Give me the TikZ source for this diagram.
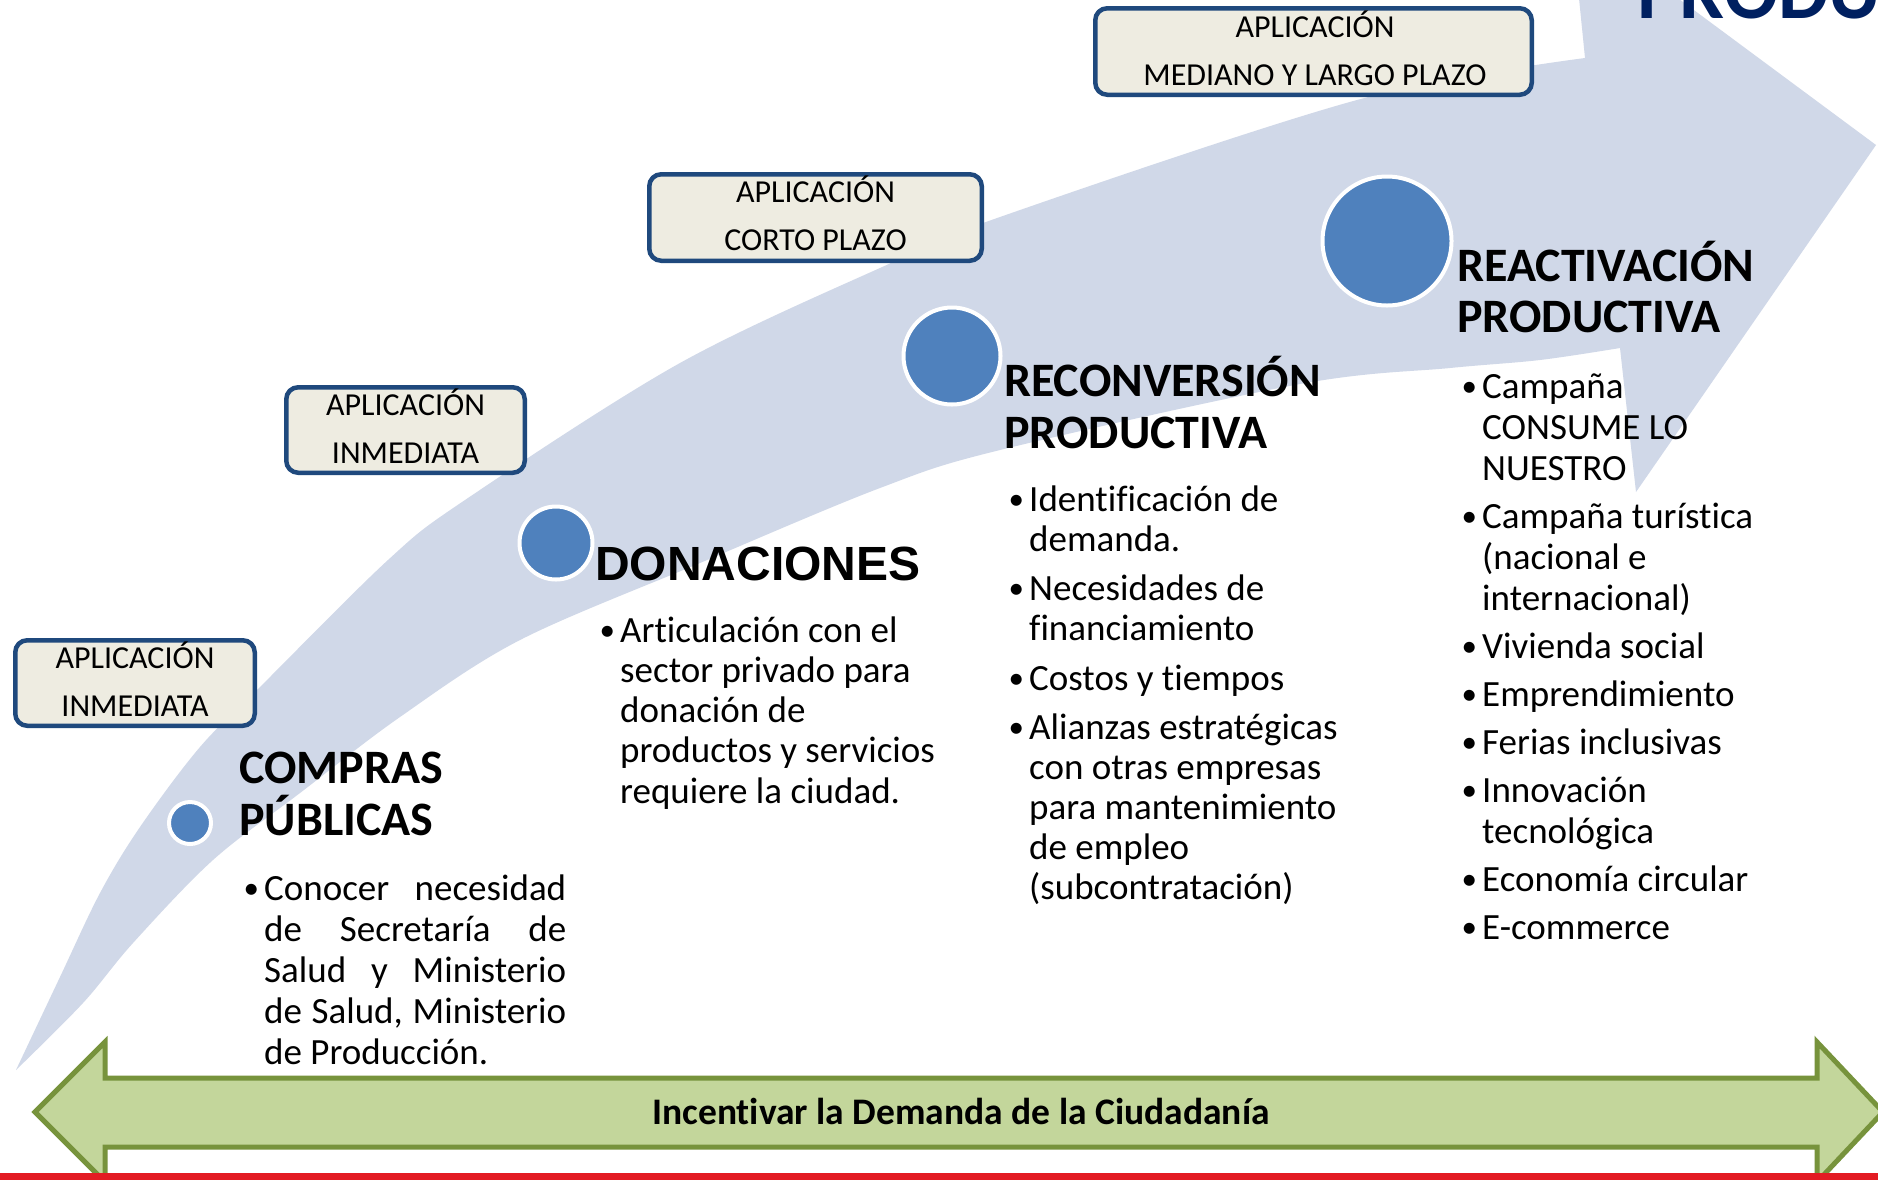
\documentclass[tikz,border=0pt]{standalone}
\usepackage{fontspec}
\setmainfont{Carlito}[Ligatures={NoCommon}]
\newfontfamily\arialfont{Liberation Sans}
\definecolor{arrowblue}{HTML}{D0D8E8}
\definecolor{boxfill}{HTML}{EEECE1}
\definecolor{boxline}{HTML}{1F497D}
\definecolor{circfill}{HTML}{4F81BD}
\definecolor{greenfill}{HTML}{C3D69B}
\definecolor{greenline}{HTML}{77933C}
\definecolor{redline}{HTML}{E31B23}
\definecolor{navy}{HTML}{002060}
\newcommand\bitem[1]{\par\hangindent=22pt\hangafter=1\noindent\makebox[22pt][l]{\hspace{1.5pt}\raisebox{2pt}{\fontsize{31pt}{31pt}\selectfont •}}#1}
\begin{document}
\begin{tikzpicture}[x=1pt,y=-1pt,
  appbox/.style={draw=boxline, line width=4.5pt, fill=boxfill, rounded corners=12pt, inner sep=0pt},
  boxtext/.style={font={\fontsize{32pt}{32pt}\selectfont}, anchor=base, inner sep=0pt},
  dotc/.style={circle, fill=circfill, draw=white, line width=4pt, inner sep=0pt},
  headtext/.style={anchor=base west, inner sep=0pt},
  bodytext/.style={anchor=base west, inner sep=0pt}]
\useasboundingbox (0,0) rectangle (1878,1179);
\clip (0,0) rectangle (1878,1179);
\fill[white] (0,0) rectangle (1878,1179);

% big curved arrow
\fill[arrowblue] plot[smooth, tension=0.55] coordinates {(16,1070) (60,977) (100,893) (140,827) (200,747) (260,687) (388,560) (465,500) (680,363) (891,263) (1000,217) (1357,100) (1585,58)}
  -- (1571,-81) -- (1876,145) -- (1636,492) -- (1620,348)
  -- plot[smooth, tension=0.55] coordinates {(1620,348) (1540,360) (1450,368) (1300,384) (1000,450) (880,488) (700,563) (520,640) (400,717) (300,793) (213,860) (133,943) (83,1003) (16,1070)}
  -- cycle;

% title cut at top
\node[anchor=base west, inner sep=0pt, text=navy, font={\fontsize{80pt}{80pt}\selectfont\bfseries}] (ttl) at (1637,18) {PRODUCCIÓN};

% application boxes
\node[appbox, minimum width=239.5pt, minimum height=85.5pt] (b1) at (135,683) {};
\node[boxtext] (b1a) at (135,668) {APLICACIÓN};
\node[boxtext] (b1b) at (135,716) {INMEDIATA};
\node[appbox, minimum width=238.5pt, minimum height=85.5pt] (b2) at (405.5,430) {};
\node[boxtext] (b2a) at (405.5,415) {APLICACIÓN};
\node[boxtext] (b2b) at (405.5,463) {INMEDIATA};
\node[appbox, minimum width=332.5pt, minimum height=86.5pt] (b3) at (815.5,217.5) {};
\node[boxtext] (b3a) at (815.5,202) {APLICACIÓN};
\node[boxtext] (b3b) at (815.5,250) {CORTO PLAZO};
\node[appbox, minimum width=436.5pt, minimum height=86.5pt] (b4) at (1313.5,51.5) {};
\node[boxtext] (b4a) at (1315,37) {APLICACIÓN};
\node[boxtext] (b4b) at (1315,85) {MEDIANO Y LARGO PLAZO};

% circles
\node[dotc, minimum size=42pt] (c1) at (190,823) {};
\node[dotc, minimum size=73pt] (c2) at (556,543) {};
\node[dotc, minimum size=97pt] (c3) at (952,356) {};
\node[dotc, minimum size=129pt] (c4) at (1387,241) {};

% headings
\node[headtext] (h1) at (239,783) {\parbox[t]{400pt}{\fontsize{48pt}{52pt}\selectfont\bfseries COMPRAS\\PÚBLICAS}};
\node[headtext] (h2) at (595,580) {\fontsize{48pt}{52pt}\selectfont\arialfont\bfseries DONACIONES};
\node[headtext] (h3) at (1004,396) {\parbox[t]{400pt}{\fontsize{48pt}{52pt}\selectfont\bfseries RECONVERSIÓN\\PRODUCTIVA}};
\node[headtext] (h4) at (1457,281) {\parbox[t]{400pt}{\fontsize{48pt}{51pt}\selectfont\bfseries REACTIVACIÓN\\PRODUCTIVA}};

% bodies
\node[bodytext] (t1) at (242,900) {\parbox[t]{400pt}{\fontsize{37pt}{41.2pt}\selectfont
\bitem{\makebox[302pt][s]{Conocer necesidad}\\\makebox[302pt][s]{de Secretaría de}\\\makebox[302pt][s]{Salud y Ministerio}\\\makebox[302pt][s]{de Salud, Ministerio}\\de Producción.}}};
\node[bodytext] (t2) at (598,642) {\parbox[t]{400pt}{\fontsize{37pt}{40.3pt}\selectfont
\bitem{Articulación con el\\sector privado para\\donación de\\productos y servicios\\requiere la ciudad.}}};
\node[bodytext] (t3) at (1007,511) {\parbox[t]{400pt}{\fontsize{37pt}{40pt}\selectfont\setlength\parskip{9.5pt}
\bitem{Identificación de\\demanda.}
\bitem{Necesidades de\\financiamiento}
\bitem{Costos y tiempos}
\bitem{Alianzas estratégicas\\con otras empresas\\para mantenimiento\\de empleo\\(subcontratación)}}};
\node[bodytext] (t4) at (1460,398) {\parbox[t]{400pt}{\fontsize{37pt}{41pt}\selectfont\setlength\parskip{7pt}
\bitem{Campaña\\CONSUME LO\\NUESTRO}
\bitem{Campaña turística\\(nacional e\\internacional)}
\bitem{Vivienda social}
\bitem{Emprendimiento}
\bitem{Ferias inclusivas}
\bitem{Innovación\\tecnológica}
\bitem{Economía circular}
\bitem{E-commerce}}};

% bottom double arrow
\draw[fill=greenfill, draw=greenline, line width=5pt, line join=miter]
  (35,1112) -- (105,1042) -- (105,1078) -- (1817,1078) -- (1817,1042) -- (1883,1112)
  -- (1817,1182) -- (1817,1147) -- (105,1147) -- (105,1182) -- cycle;
\node[anchor=base, inner sep=0pt, font={\fontsize{37.5pt}{37.5pt}\selectfont\bfseries}] (dem) at (961,1124) {Incentivar la Demanda de la Ciudadanía};
\fill[redline] (0,1173) rectangle (1878,1180);
\end{tikzpicture}
\end{document}
